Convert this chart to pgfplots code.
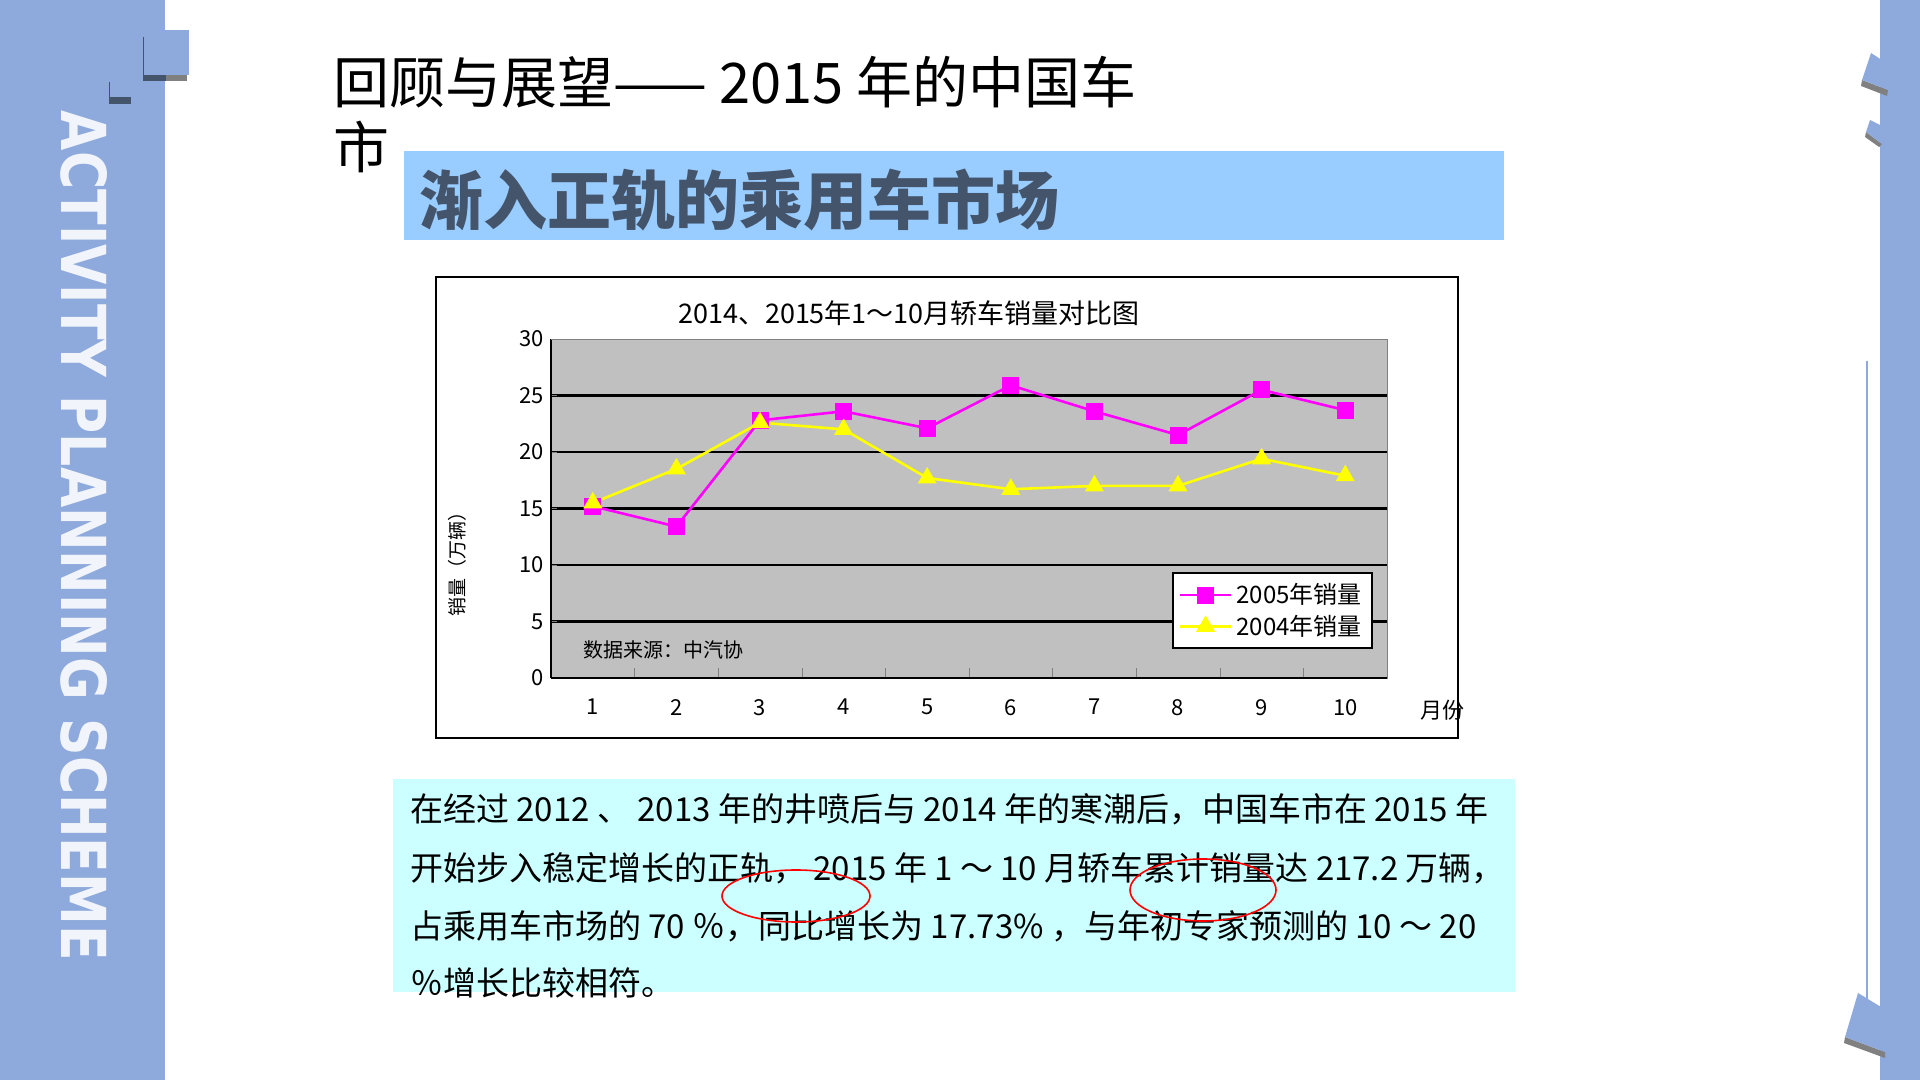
\documentclass[border=0pt]{standalone}
\usepackage{pgfplots}
\pgfplotsset{compat=1.18}
\usepackage{fontspec}
\setmainfont{Noto Sans CJK SC}
\newfontfamily\dv{DejaVu Sans}
\definecolor{side}{HTML}{8EA9DB}
\definecolor{barblue}{HTML}{99CCFF}
\definecolor{boxcyan}{HTML}{CCFFFF}
\definecolor{subt}{HTML}{44546A}
\definecolor{plotgray}{HTML}{C0C0C0}
\definecolor{mag}{HTML}{FF00FF}
\definecolor{yel}{HTML}{FFFF00}
\begin{document}
\begin{tikzpicture}
\path[use as bounding box, fill=white] (0,0) rectangle (960pt,540pt);
\begin{scope}[shift={(0pt,540pt)},x=0.5pt,y=-0.5pt]
% sidebars
\fill[side] (0,0) rectangle (165,1080);
\fill[side] (1880,0) rectangle (1920,1080);
\fill[subt] (143,75) rectangle (166,81);
\fill[gray] (166,75) rectangle (187,81);
\fill[side] (143,30) rectangle (189,75);
\draw[subt, line width=0.4pt] (143,37) -- (143,75);
\fill[subt] (109,97) rectangle (131,104);
\draw[subt, line width=0.4pt] (109,82) -- (109,97);
\draw[side, line width=1pt] (1867,361) -- (1867,1010);
\fill[gray] (1862,80) -- (1888,90) -- (1887,96) -- (1861,86) -- cycle;
\fill[side] (1871,53) -- (1894,68) -- (1888,90) -- (1862,80) -- cycle;
\fill[gray] (1866,132) -- (1882,144) -- (1879,147) -- (1865,137) -- cycle;
\fill[side] (1870,120) -- (1886,128) -- (1882,144) -- (1866,132) -- cycle;
\fill[gray] (1845,1037) -- (1885,1052) -- (1885,1058) -- (1844,1043) -- cycle;
\fill[side] (1858,993) -- (1899,1018) -- (1885,1052) -- (1845,1037) -- cycle;
\node[rotate=-90, text=white!88!side] at (84,536) {\resizebox{425pt}{23pt}{\dv\bfseries ACTIVITY PLANNING SCHEME}};
% titles
\node[anchor=west, font=\fontsize{28}{30}\selectfont] at (326,82) {回顾与展望—— 2015 年的中国车};
\node[anchor=west, font=\fontsize{28}{30}\selectfont] at (326,147) {市};
\fill[barblue] (404,151) rectangle (1504,240);
\node[anchor=west, text=subt, font=\fontsize{32}{34}\selectfont\bfseries] at (412,200) {渐入正轨的乘用车市场};
% chart frame
\draw[black, line width=1pt, fill=white] (436,277) rectangle (1458,738);
\node[font=\fontsize{13.5}{15}\selectfont] at (909,313) {2014、2015年1～10月轿车销量对比图};
\node[rotate=90, font=\fontsize{9.5}{11}\selectfont] at (457,560) {销量（万辆）};
\node[font=\fontsize{11}{12}\selectfont] at (1442,710) {月份};
% text box
\fill[boxcyan] (393,779) rectangle (1515,992);
\node[anchor=west, font=\fontsize{16.5}{18}\selectfont] at (403,809) {在经过 2012 、 2013 年的井喷后与 2014 年的寒潮后，中国车市在 2015 年};
\node[anchor=west, font=\fontsize{16.5}{18}\selectfont] at (403,868) {开始步入稳定增长的正轨， 2015 年 1 ～ 10 月轿车累计销量达 217.2 万辆，};
\node[anchor=west, font=\fontsize{16.5}{18}\selectfont] at (403,926) {占乘用车市场的 70 ％，同比增长为 17.73\% ，与年初专家预测的 10 ～ 20};
\node[anchor=west, font=\fontsize{16.5}{18}\selectfont] at (403,983) {％增长比较相符。};
\draw[red, line width=0.8pt] (796,896) ellipse [x radius=74, y radius=26];
\draw[red, line width=0.8pt] (1203,890) ellipse [x radius=73, y radius=31];
\end{scope}
\begin{axis}[at={(275.5pt,201pt)}, anchor=south west,
  width=418pt, height=169.5pt, scale only axis,
  xmin=0.5, xmax=10.5, ymin=0, ymax=30,
  xtick={1,...,10}, ytick={0,5,...,25},
  extra y ticks={30}, extra y tick style={grid=none},
  minor xtick={1.5,2.5,...,9.5},
  major x tick style={draw=none},
  minor tick length=5pt,
  major tick length=3pt,
  axis lines*=left,
  axis line style={black, line width=1.2pt},
  axis background/.style={fill=plotgray, draw=gray},
  ymajorgrids, grid style={black, line width=1.2pt},
  tick label style={font=\fontsize{11}{12}\selectfont},
  /pgf/number format/assume math mode=true,
  xticklabel style={yshift=-7pt},
  legend style={at={(0.983,0.0855)}, anchor=south east, draw=black, line width=1pt, fill=white, font=\fontsize{12}{13}\selectfont, inner sep=3pt, row sep=0pt},
  legend image code/.code={\draw[mark repeat=2,mark phase=2,#1] plot coordinates {(0cm,0cm) (0.45cm,0cm) (0.9cm,0cm)};},
  legend cell align=left,
  clip=false]
\addplot[mag, line width=1.3pt, mark=square*, mark size=3.6pt] coordinates {
(1,15.2) (2,13.4) (3,22.8) (4,23.6) (5,22.1) (6,25.9) (7,23.6) (8,21.5) (9,25.5) (10,23.7)};
\addlegendentry{2005年销量}
\addplot[yel, line width=1.3pt, mark=triangle*, mark size=4.2pt] coordinates {
(1,15.5) (2,18.5) (3,22.6) (4,22.0) (5,17.7) (6,16.7) (7,17.0) (8,17.0) (9,19.4) (10,17.9)};
\addlegendentry{2004年销量}
\node[anchor=west, font=\fontsize{10}{12}\selectfont] at (rel axis cs:0.03,0.083) {数据来源：中汽协};
\end{axis}
\end{tikzpicture}
\end{document}
